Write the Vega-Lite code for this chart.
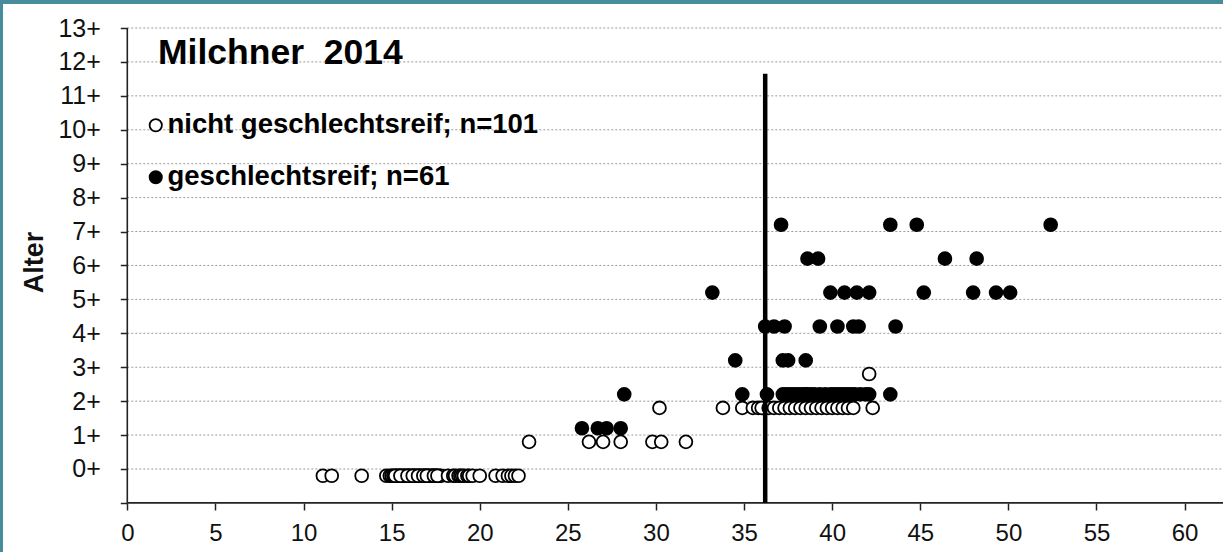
{
  "$schema": "https://vega.github.io/schema/vega-lite/v6.json",
  "width": 1220,
  "height": 548,
  "padding": {"left": 3, "top": 4, "right": 0, "bottom": 0},
  "autosize": {"type": "pad"},
  "background": "#478c9a",
  "config": {
    "view": {"fill": "white", "stroke": null},
    "font": "Liberation Sans"
  },
  "datasets": {
    "grid": [
      {"x": 0, "x2": 62.18, "y": 0, "y2": 0},
      {"x": 0, "x2": 62.18, "y": 1, "y2": 1},
      {"x": 0, "x2": 62.18, "y": 2, "y2": 2},
      {"x": 0, "x2": 62.18, "y": 3, "y2": 3},
      {"x": 0, "x2": 62.18, "y": 4, "y2": 4},
      {"x": 0, "x2": 62.18, "y": 5, "y2": 5},
      {"x": 0, "x2": 62.18, "y": 6, "y2": 6},
      {"x": 0, "x2": 62.18, "y": 7, "y2": 7},
      {"x": 0, "x2": 62.18, "y": 8, "y2": 8},
      {"x": 0, "x2": 62.18, "y": 9, "y2": 9},
      {"x": 0, "x2": 62.18, "y": 10, "y2": 10},
      {"x": 0, "x2": 62.18, "y": 11, "y2": 11},
      {"x": 0, "x2": 62.18, "y": 12, "y2": 12},
      {"x": 0, "x2": 62.18, "y": 13, "y2": 13}
    ],
    "axes": [
      {"x": 0, "x2": 0, "y": -1, "y2": 13},
      {"x": 0, "x2": 62.18, "y": -1, "y2": -1}
    ],
    "grenze": [
      {"x": 36.2, "x2": 36.2, "y": -1, "y2": 11.65}
    ],
    "fische": [
      {"g": "geschlechtsreif; n=61", "x": 25.8, "y": 1.2},
      {"g": "geschlechtsreif; n=61", "x": 26.7, "y": 1.2},
      {"g": "geschlechtsreif; n=61", "x": 27.2, "y": 1.2},
      {"g": "geschlechtsreif; n=61", "x": 28.0, "y": 1.2},
      {"g": "geschlechtsreif; n=61", "x": 28.2, "y": 2.2},
      {"g": "geschlechtsreif; n=61", "x": 34.9, "y": 2.2},
      {"g": "geschlechtsreif; n=61", "x": 36.3, "y": 2.2},
      {"g": "geschlechtsreif; n=61", "x": 37.2, "y": 2.2},
      {"g": "geschlechtsreif; n=61", "x": 37.4, "y": 2.2},
      {"g": "geschlechtsreif; n=61", "x": 37.6, "y": 2.2},
      {"g": "geschlechtsreif; n=61", "x": 37.8, "y": 2.2},
      {"g": "geschlechtsreif; n=61", "x": 38.0, "y": 2.2},
      {"g": "geschlechtsreif; n=61", "x": 38.2, "y": 2.2},
      {"g": "geschlechtsreif; n=61", "x": 38.4, "y": 2.2},
      {"g": "geschlechtsreif; n=61", "x": 38.5, "y": 2.2},
      {"g": "geschlechtsreif; n=61", "x": 38.6, "y": 2.2},
      {"g": "geschlechtsreif; n=61", "x": 38.8, "y": 2.2},
      {"g": "geschlechtsreif; n=61", "x": 39.0, "y": 2.2},
      {"g": "geschlechtsreif; n=61", "x": 39.3, "y": 2.2},
      {"g": "geschlechtsreif; n=61", "x": 39.6, "y": 2.2},
      {"g": "geschlechtsreif; n=61", "x": 39.9, "y": 2.2},
      {"g": "geschlechtsreif; n=61", "x": 40.1, "y": 2.2},
      {"g": "geschlechtsreif; n=61", "x": 40.3, "y": 2.2},
      {"g": "geschlechtsreif; n=61", "x": 40.5, "y": 2.2},
      {"g": "geschlechtsreif; n=61", "x": 40.7, "y": 2.2},
      {"g": "geschlechtsreif; n=61", "x": 40.9, "y": 2.2},
      {"g": "geschlechtsreif; n=61", "x": 41.1, "y": 2.2},
      {"g": "geschlechtsreif; n=61", "x": 41.3, "y": 2.2},
      {"g": "geschlechtsreif; n=61", "x": 41.6, "y": 2.2},
      {"g": "geschlechtsreif; n=61", "x": 41.9, "y": 2.2},
      {"g": "geschlechtsreif; n=61", "x": 42.1, "y": 2.2},
      {"g": "geschlechtsreif; n=61", "x": 43.3, "y": 2.2},
      {"g": "geschlechtsreif; n=61", "x": 34.5, "y": 3.2},
      {"g": "geschlechtsreif; n=61", "x": 37.2, "y": 3.2},
      {"g": "geschlechtsreif; n=61", "x": 37.5, "y": 3.2},
      {"g": "geschlechtsreif; n=61", "x": 38.5, "y": 3.2},
      {"g": "geschlechtsreif; n=61", "x": 36.2, "y": 4.2},
      {"g": "geschlechtsreif; n=61", "x": 36.7, "y": 4.2},
      {"g": "geschlechtsreif; n=61", "x": 37.3, "y": 4.2},
      {"g": "geschlechtsreif; n=61", "x": 39.3, "y": 4.2},
      {"g": "geschlechtsreif; n=61", "x": 40.3, "y": 4.2},
      {"g": "geschlechtsreif; n=61", "x": 41.2, "y": 4.2},
      {"g": "geschlechtsreif; n=61", "x": 41.5, "y": 4.2},
      {"g": "geschlechtsreif; n=61", "x": 43.6, "y": 4.2},
      {"g": "geschlechtsreif; n=61", "x": 33.2, "y": 5.2},
      {"g": "geschlechtsreif; n=61", "x": 39.9, "y": 5.2},
      {"g": "geschlechtsreif; n=61", "x": 40.7, "y": 5.2},
      {"g": "geschlechtsreif; n=61", "x": 41.4, "y": 5.2},
      {"g": "geschlechtsreif; n=61", "x": 42.1, "y": 5.2},
      {"g": "geschlechtsreif; n=61", "x": 45.2, "y": 5.2},
      {"g": "geschlechtsreif; n=61", "x": 48.0, "y": 5.2},
      {"g": "geschlechtsreif; n=61", "x": 49.3, "y": 5.2},
      {"g": "geschlechtsreif; n=61", "x": 50.1, "y": 5.2},
      {"g": "geschlechtsreif; n=61", "x": 38.6, "y": 6.2},
      {"g": "geschlechtsreif; n=61", "x": 39.2, "y": 6.2},
      {"g": "geschlechtsreif; n=61", "x": 46.4, "y": 6.2},
      {"g": "geschlechtsreif; n=61", "x": 48.2, "y": 6.2},
      {"g": "geschlechtsreif; n=61", "x": 37.1, "y": 7.2},
      {"g": "geschlechtsreif; n=61", "x": 43.3, "y": 7.2},
      {"g": "geschlechtsreif; n=61", "x": 44.8, "y": 7.2},
      {"g": "geschlechtsreif; n=61", "x": 52.4, "y": 7.2},
      {"g": "nicht geschlechtsreif; n=101", "x": 42.1, "y": 2.8},
      {"g": "nicht geschlechtsreif; n=101", "x": 30.2, "y": 1.8},
      {"g": "nicht geschlechtsreif; n=101", "x": 33.8, "y": 1.8},
      {"g": "nicht geschlechtsreif; n=101", "x": 34.9, "y": 1.8},
      {"g": "nicht geschlechtsreif; n=101", "x": 35.5, "y": 1.8},
      {"g": "nicht geschlechtsreif; n=101", "x": 35.8, "y": 1.8},
      {"g": "nicht geschlechtsreif; n=101", "x": 36.0, "y": 1.8},
      {"g": "nicht geschlechtsreif; n=101", "x": 36.4, "y": 1.8},
      {"g": "nicht geschlechtsreif; n=101", "x": 36.7, "y": 1.8},
      {"g": "nicht geschlechtsreif; n=101", "x": 37.0, "y": 1.8},
      {"g": "nicht geschlechtsreif; n=101", "x": 37.3, "y": 1.8},
      {"g": "nicht geschlechtsreif; n=101", "x": 37.6, "y": 1.8},
      {"g": "nicht geschlechtsreif; n=101", "x": 37.9, "y": 1.8},
      {"g": "nicht geschlechtsreif; n=101", "x": 38.2, "y": 1.8},
      {"g": "nicht geschlechtsreif; n=101", "x": 38.5, "y": 1.8},
      {"g": "nicht geschlechtsreif; n=101", "x": 38.8, "y": 1.8},
      {"g": "nicht geschlechtsreif; n=101", "x": 39.1, "y": 1.8},
      {"g": "nicht geschlechtsreif; n=101", "x": 39.4, "y": 1.8},
      {"g": "nicht geschlechtsreif; n=101", "x": 39.7, "y": 1.8},
      {"g": "nicht geschlechtsreif; n=101", "x": 40.0, "y": 1.8},
      {"g": "nicht geschlechtsreif; n=101", "x": 40.3, "y": 1.8},
      {"g": "nicht geschlechtsreif; n=101", "x": 40.6, "y": 1.8},
      {"g": "nicht geschlechtsreif; n=101", "x": 40.9, "y": 1.8},
      {"g": "nicht geschlechtsreif; n=101", "x": 41.2, "y": 1.8},
      {"g": "nicht geschlechtsreif; n=101", "x": 42.3, "y": 1.8},
      {"g": "nicht geschlechtsreif; n=101", "x": 22.8, "y": 0.8},
      {"g": "nicht geschlechtsreif; n=101", "x": 26.2, "y": 0.8},
      {"g": "nicht geschlechtsreif; n=101", "x": 27.0, "y": 0.8},
      {"g": "nicht geschlechtsreif; n=101", "x": 28.0, "y": 0.8},
      {"g": "nicht geschlechtsreif; n=101", "x": 29.8, "y": 0.8},
      {"g": "nicht geschlechtsreif; n=101", "x": 30.3, "y": 0.8},
      {"g": "nicht geschlechtsreif; n=101", "x": 31.7, "y": 0.8},
      {"g": "nicht geschlechtsreif; n=101", "x": 11.1, "y": -0.2},
      {"g": "nicht geschlechtsreif; n=101", "x": 11.6, "y": -0.2},
      {"g": "nicht geschlechtsreif; n=101", "x": 13.3, "y": -0.2},
      {"g": "nicht geschlechtsreif; n=101", "x": 14.7, "y": -0.2},
      {"g": "nicht geschlechtsreif; n=101", "x": 14.9, "y": -0.2},
      {"g": "nicht geschlechtsreif; n=101", "x": 15.0, "y": -0.2},
      {"g": "nicht geschlechtsreif; n=101", "x": 15.1, "y": -0.2},
      {"g": "nicht geschlechtsreif; n=101", "x": 15.2, "y": -0.2},
      {"g": "nicht geschlechtsreif; n=101", "x": 15.3, "y": -0.2},
      {"g": "nicht geschlechtsreif; n=101", "x": 15.4, "y": -0.2},
      {"g": "nicht geschlechtsreif; n=101", "x": 15.4, "y": -0.2},
      {"g": "nicht geschlechtsreif; n=101", "x": 15.5, "y": -0.2},
      {"g": "nicht geschlechtsreif; n=101", "x": 15.6, "y": -0.2},
      {"g": "nicht geschlechtsreif; n=101", "x": 15.7, "y": -0.2},
      {"g": "nicht geschlechtsreif; n=101", "x": 15.7, "y": -0.2},
      {"g": "nicht geschlechtsreif; n=101", "x": 15.8, "y": -0.2},
      {"g": "nicht geschlechtsreif; n=101", "x": 15.9, "y": -0.2},
      {"g": "nicht geschlechtsreif; n=101", "x": 16.0, "y": -0.2},
      {"g": "nicht geschlechtsreif; n=101", "x": 16.0, "y": -0.2},
      {"g": "nicht geschlechtsreif; n=101", "x": 16.1, "y": -0.2},
      {"g": "nicht geschlechtsreif; n=101", "x": 16.2, "y": -0.2},
      {"g": "nicht geschlechtsreif; n=101", "x": 16.3, "y": -0.2},
      {"g": "nicht geschlechtsreif; n=101", "x": 16.3, "y": -0.2},
      {"g": "nicht geschlechtsreif; n=101", "x": 16.4, "y": -0.2},
      {"g": "nicht geschlechtsreif; n=101", "x": 16.5, "y": -0.2},
      {"g": "nicht geschlechtsreif; n=101", "x": 16.6, "y": -0.2},
      {"g": "nicht geschlechtsreif; n=101", "x": 16.6, "y": -0.2},
      {"g": "nicht geschlechtsreif; n=101", "x": 16.7, "y": -0.2},
      {"g": "nicht geschlechtsreif; n=101", "x": 16.8, "y": -0.2},
      {"g": "nicht geschlechtsreif; n=101", "x": 16.9, "y": -0.2},
      {"g": "nicht geschlechtsreif; n=101", "x": 16.9, "y": -0.2},
      {"g": "nicht geschlechtsreif; n=101", "x": 17.0, "y": -0.2},
      {"g": "nicht geschlechtsreif; n=101", "x": 17.1, "y": -0.2},
      {"g": "nicht geschlechtsreif; n=101", "x": 17.1, "y": -0.2},
      {"g": "nicht geschlechtsreif; n=101", "x": 17.2, "y": -0.2},
      {"g": "nicht geschlechtsreif; n=101", "x": 17.3, "y": -0.2},
      {"g": "nicht geschlechtsreif; n=101", "x": 17.3, "y": -0.2},
      {"g": "nicht geschlechtsreif; n=101", "x": 17.4, "y": -0.2},
      {"g": "nicht geschlechtsreif; n=101", "x": 17.5, "y": -0.2},
      {"g": "nicht geschlechtsreif; n=101", "x": 17.5, "y": -0.2},
      {"g": "nicht geschlechtsreif; n=101", "x": 17.6, "y": -0.2},
      {"g": "nicht geschlechtsreif; n=101", "x": 17.7, "y": -0.2},
      {"g": "nicht geschlechtsreif; n=101", "x": 17.8, "y": -0.2},
      {"g": "nicht geschlechtsreif; n=101", "x": 15.2, "y": -0.2},
      {"g": "nicht geschlechtsreif; n=101", "x": 15.5, "y": -0.2},
      {"g": "nicht geschlechtsreif; n=101", "x": 15.9, "y": -0.2},
      {"g": "nicht geschlechtsreif; n=101", "x": 16.2, "y": -0.2},
      {"g": "nicht geschlechtsreif; n=101", "x": 16.5, "y": -0.2},
      {"g": "nicht geschlechtsreif; n=101", "x": 16.8, "y": -0.2},
      {"g": "nicht geschlechtsreif; n=101", "x": 17.0, "y": -0.2},
      {"g": "nicht geschlechtsreif; n=101", "x": 17.4, "y": -0.2},
      {"g": "nicht geschlechtsreif; n=101", "x": 17.6, "y": -0.2},
      {"g": "nicht geschlechtsreif; n=101", "x": 18.2, "y": -0.2},
      {"g": "nicht geschlechtsreif; n=101", "x": 18.5, "y": -0.2},
      {"g": "nicht geschlechtsreif; n=101", "x": 18.6, "y": -0.2},
      {"g": "nicht geschlechtsreif; n=101", "x": 18.8, "y": -0.2},
      {"g": "nicht geschlechtsreif; n=101", "x": 18.9, "y": -0.2},
      {"g": "nicht geschlechtsreif; n=101", "x": 19.0, "y": -0.2},
      {"g": "nicht geschlechtsreif; n=101", "x": 19.1, "y": -0.2},
      {"g": "nicht geschlechtsreif; n=101", "x": 19.3, "y": -0.2},
      {"g": "nicht geschlechtsreif; n=101", "x": 19.4, "y": -0.2},
      {"g": "nicht geschlechtsreif; n=101", "x": 19.6, "y": -0.2},
      {"g": "nicht geschlechtsreif; n=101", "x": 20.0, "y": -0.2},
      {"g": "nicht geschlechtsreif; n=101", "x": 20.9, "y": -0.2},
      {"g": "nicht geschlechtsreif; n=101", "x": 21.3, "y": -0.2},
      {"g": "nicht geschlechtsreif; n=101", "x": 21.6, "y": -0.2},
      {"g": "nicht geschlechtsreif; n=101", "x": 21.8, "y": -0.2},
      {"g": "nicht geschlechtsreif; n=101", "x": 22.0, "y": -0.2},
      {"g": "nicht geschlechtsreif; n=101", "x": 22.2, "y": -0.2}
    ]
  },
  "encoding": {
    "x": {
      "field": "x",
      "type": "quantitative",
      "scale": {"domain": [-7.054, 62.18], "nice": false, "zero": false},
      "axis": {
        "orient": "bottom",
        "offset": -49,
        "values": [0, 5, 10, 15, 20, 25, 30, 35, 40, 45, 50, 55, 60],
        "domain": false,
        "grid": false,
        "ticks": true,
        "tickSize": 7,
        "tickColor": "#222222",
        "tickWidth": 1.5,
        "labelFont": "Liberation Sans",
        "labelFontSize": 24,
        "labelColor": "#111111",
        "labelPadding": 11,
        "title": null
      }
    },
    "y": {
      "field": "y",
      "type": "quantitative",
      "scale": {"domain": [-2.447, 13.708], "nice": false, "zero": false},
      "axis": {
        "orient": "left",
        "offset": -124.3,
        "values": [-1, 0, 1, 2, 3, 4, 5, 6, 7, 8, 9, 10, 11, 12, 13],
        "labelExpr": "datum.value >= 0 ? datum.value + '+' : ''",
        "domain": false,
        "grid": false,
        "ticks": true,
        "tickSize": 7,
        "tickColor": "#222222",
        "tickWidth": 1.5,
        "labelFont": "Liberation Sans",
        "labelFontSize": 25,
        "labelColor": "#111111",
        "labelPadding": 20,
        "title": "Alter",
        "titleFont": "Liberation Sans",
        "titleFontSize": 27,
        "titleFontWeight": "bold",
        "titleColor": "#111111",
        "titleBaseline": "middle",
        "titleX": -93,
        "titleY": 258
      }
    }
  },
  "layer": [
    {
      "data": {"name": "grid"},
      "mark": {"type": "rule", "color": "#9a9a9a", "strokeWidth": 1, "strokeDash": [2, 2]},
      "encoding": {"x2": {"field": "x2"}, "y2": {"field": "y2"}}
    },
    {
      "data": {"name": "axes"},
      "mark": {"type": "rule", "color": "#222222", "strokeWidth": 1.6},
      "encoding": {"x2": {"field": "x2"}, "y2": {"field": "y2"}}
    },
    {
      "data": {"name": "fische"},
      "mark": {"type": "point", "shape": "circle", "size": 165, "stroke": "black", "strokeWidth": 1.8, "opacity": 1, "fillOpacity": 1},
      "encoding": {
        "fill": {
          "field": "g",
          "type": "nominal",
          "scale": {
            "domain": ["nicht geschlechtsreif; n=101", "geschlechtsreif; n=61"],
            "range": ["white", "black"]
          },
          "legend": {
            "orient": "none",
            "legendX": 155,
            "legendY": 32,
            "title": "Milchner\u00a0 2014",
            "titleFont": "Liberation Sans",
            "titleFontSize": 35.5,
            "titleFontWeight": "bold",
            "titleColor": "black",
            "titlePadding": 40,
            "titleLimit": 800,
            "labelFont": "Liberation Sans",
            "labelFontSize": 27.5,
            "labelFontWeight": "bold",
            "labelColor": "black",
            "labelLimit": 800,
            "labelOffset": -2,
            "rowPadding": 23,
            "padding": 0,
            "symbolOffset": -16,
            "symbolType": "circle",
            "symbolSize": 150,
            "symbolStrokeColor": "black",
            "symbolStrokeWidth": 1.8
          }
        }
      }
    },
    {
      "data": {"name": "grenze"},
      "mark": {"type": "rule", "color": "black", "strokeWidth": 4.5},
      "encoding": {"x2": {"field": "x2"}, "y2": {"field": "y2"}}
    }
  ]
}
